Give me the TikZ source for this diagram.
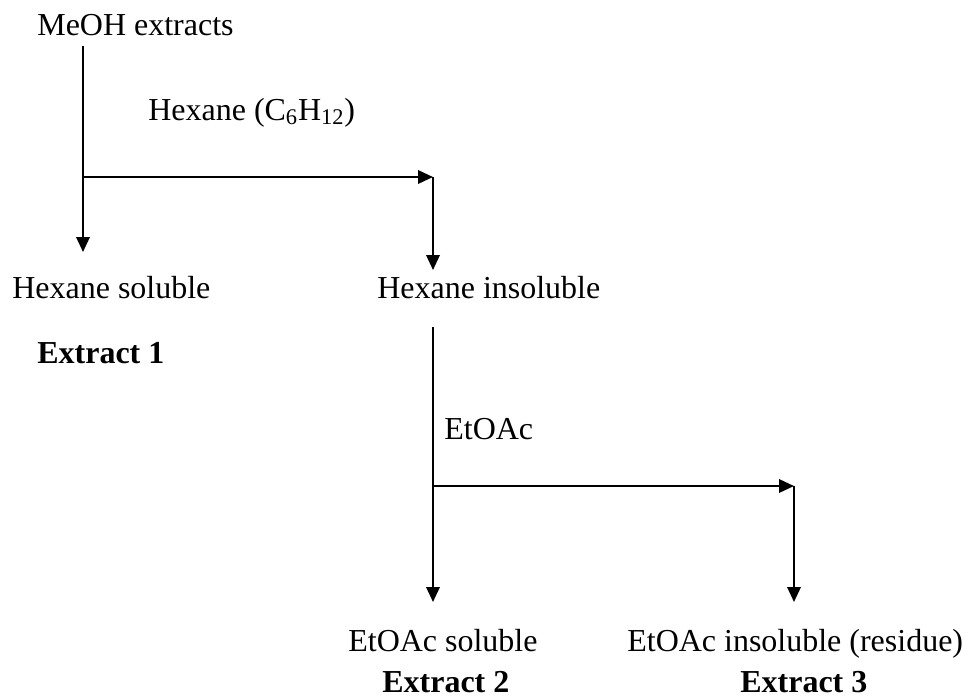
\documentclass[tikz,border=0pt]{standalone}
\usepackage{fontspec}
\setmainfont{Liberation Serif}
\usetikzlibrary{arrows.meta}

\begin{document}
\begin{tikzpicture}[font=\fontsize{18.2}{22}\selectfont,
		lbl/.style={anchor=base west, inner sep=0pt},
		arr/.style={line width=0.04cm, -{Triangle[length=0.3cm,width=0.27cm]}}]
				\useasboundingbox (0, 0) rectangle (19.3, -13.96);
				\path (0.74, -0.70) node[lbl] (meoh){MeOH extracts}
				(2.96, -2.40) node[lbl] (hexane){Hexane (C\textsubscript{6}H\textsubscript{12})}
				(0.24, -5.96) node[lbl] (hsol){Hexane soluble}
				(7.54, -5.96) node[lbl] (hins){Hexane insoluble}
				(0.74, -7.26) node[lbl] (ext1){\textbf{Extract 1}}
				(8.88, -8.78) node[lbl] (etoac){EtOAc}
				(6.96, -13.02) node[lbl] (esol){EtOAc soluble}
				(7.64, -13.84) node[lbl] (ext2){\textbf{Extract 2}}
				(12.54, -13.02) node[lbl] (eins){EtOAc insoluble (residue)}
				(14.80, -13.84) node[lbl] (ext3){\textbf{Extract 3}};
				
				% split points and arrow ends
				\coordinate (m0) at (1.66, -0.92);
				\coordinate (m1) at (1.66, -3.54);
				\coordinate (m2) at (1.66, -5.04);
				\coordinate (h1) at (8.66, -3.54);
				\coordinate (h2) at (8.66, -5.40);
				\coordinate (i0) at (8.66, -6.54);
				\coordinate (i1) at (8.66, -9.72);
				\coordinate (i2) at (8.66, -12.04);
				\coordinate (r1) at (15.88, -9.72);
				\coordinate (r2) at (15.88, -12.04);
				
				\draw[arr] (m0) -- (m2);
				\draw[arr] (m1) -- (h1);
				\draw[arr] (h1) -- (h2);
				\draw[arr] (i0) -- (i2);
				\draw[arr] (i1) -- (r1);
				\draw[arr] (r1) -- (r2);
			\end{tikzpicture}
\end{document}
